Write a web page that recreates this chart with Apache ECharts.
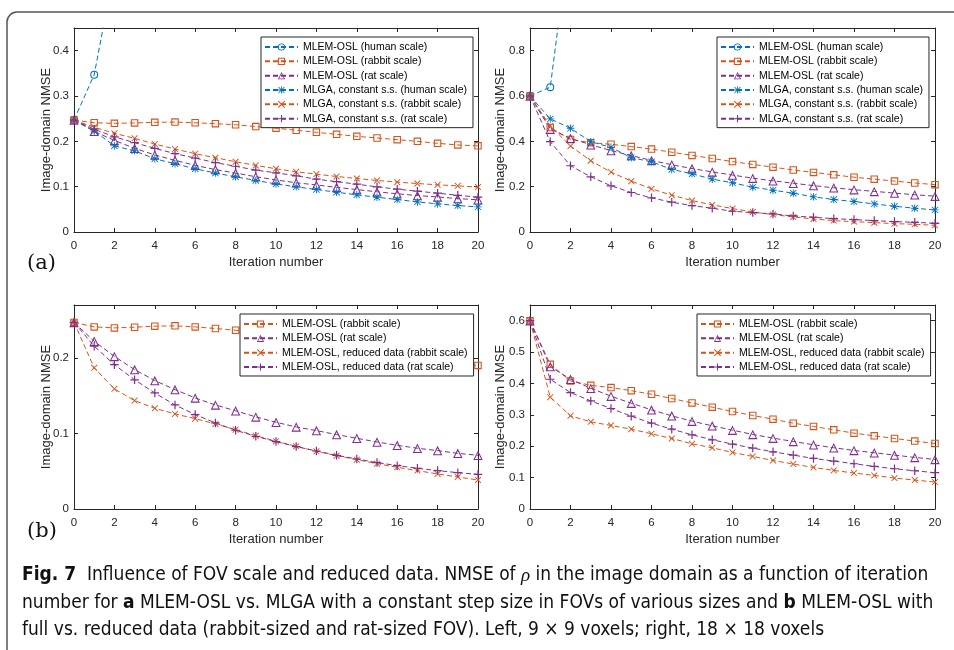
<!DOCTYPE html>
<html><head><meta charset="utf-8">
<script src="https://cdn.jsdelivr.net/npm/echarts@6/dist/echarts.min.js"></script>
<style>html,body{margin:0;padding:0;background:#fff}#c{width:954px;height:650px}</style>
</head><body><div id="c"></div>
<script>
// ---------- data ----------
const iterations = [0,1,2,3,4,5,6,7,8,9,10,11,12,13,14,15,16,17,18,19,20];

// 9 x 9 voxels (left column)
const human9_mlem  = [0.247, 0.347, 0.58];
const rabbit9_mlem = [0.247, 0.241, 0.2397, 0.2406, 0.242, 0.2424, 0.241, 0.2389, 0.2366, 0.2325, 0.229, 0.2244, 0.22, 0.2155, 0.211, 0.2074, 0.2037, 0.2, 0.1956, 0.192, 0.19];
const rat9_mlem    = [0.247, 0.222, 0.202, 0.1845, 0.17, 0.158, 0.147, 0.1377, 0.130, 0.1219, 0.1148, 0.1086, 0.1038, 0.0985, 0.0936, 0.0887, 0.0843, 0.0804, 0.0773, 0.0737, 0.0711];
const human9_mlga  = [0.247, 0.2229, 0.19, 0.179, 0.1616, 0.1505, 0.1395, 0.13, 0.1218, 0.1137, 0.106, 0.0996, 0.0937, 0.0878, 0.082, 0.0768, 0.0716, 0.0664, 0.062, 0.0583, 0.0554];
const rabbit9_mlga = [0.247, 0.231, 0.2177, 0.2066, 0.194, 0.183, 0.1727, 0.1638, 0.155, 0.1469, 0.1395, 0.1328, 0.1277, 0.1225, 0.118, 0.1137, 0.11, 0.107, 0.104, 0.1018, 0.099];
const rat9_mlga    = [0.247, 0.2266, 0.21, 0.197, 0.1845, 0.173, 0.163, 0.153, 0.145, 0.1365, 0.1306, 0.124, 0.1166, 0.111, 0.1055, 0.0996, 0.0945, 0.09, 0.0856, 0.081, 0.0768];
const rabbit9_red  = [0.247, 0.1868, 0.159, 0.1435, 0.1333, 0.1258, 0.1196, 0.1126, 0.105, 0.0971, 0.0896, 0.083, 0.0764, 0.0706, 0.0653, 0.06, 0.0552, 0.0508, 0.0464, 0.0424, 0.0384];
const rat9_red     = [0.247, 0.2155, 0.191, 0.171, 0.1536, 0.1377, 0.125, 0.1139, 0.1042, 0.0962, 0.0892, 0.0826, 0.0768, 0.0711, 0.0662, 0.0614, 0.0574, 0.0539, 0.0508, 0.0481, 0.0459];

// 18 x 18 voxels (right column)
const human18_mlem  = [0.6, 0.639, 1.33];
const rabbit18_mlem = [0.6, 0.461, 0.408, 0.394, 0.387, 0.377, 0.3657, 0.352, 0.338, 0.3244, 0.3106, 0.298, 0.2862, 0.2735, 0.263, 0.2523, 0.2417, 0.2332, 0.2247, 0.2163, 0.2088];
const rat18_mlem    = [0.6, 0.4537, 0.4134, 0.3848, 0.3594, 0.3371, 0.3159, 0.2968, 0.2799, 0.265, 0.2512, 0.2375, 0.2258, 0.2152, 0.2046, 0.1951, 0.1866, 0.1792, 0.1717, 0.1643, 0.158];
const human18_mlga  = [0.6, 0.499, 0.4576, 0.3985, 0.3734, 0.3277, 0.31, 0.276, 0.2568, 0.2332, 0.217, 0.1978, 0.1845, 0.1712, 0.155, 0.1432, 0.1343, 0.124, 0.1137, 0.1048, 0.0974];
const rabbit18_mlga = [0.6, 0.468, 0.3793, 0.3144, 0.2642, 0.2244, 0.1904, 0.1624, 0.1387, 0.1196, 0.1033, 0.0886, 0.0768, 0.0664, 0.0576, 0.0502, 0.0458, 0.0413, 0.0369, 0.034, 0.0295];
const rat18_mlga    = [0.6, 0.3985, 0.2923, 0.2435, 0.2037, 0.1742, 0.1506, 0.1314, 0.1166, 0.1048, 0.0915, 0.0856, 0.0797, 0.0708, 0.065, 0.059, 0.0546, 0.0502, 0.0458, 0.0428, 0.0384];
const rabbit18_red  = [0.6, 0.3562, 0.2968, 0.2777, 0.2661, 0.2544, 0.2396, 0.2247, 0.2078, 0.195, 0.1802, 0.1675, 0.1548, 0.1431, 0.1325, 0.123, 0.1145, 0.1071, 0.0986, 0.0922, 0.0859];
const rat18_red     = [0.6, 0.4134, 0.371, 0.3445, 0.3202, 0.2958, 0.2735, 0.2544, 0.2364, 0.2205, 0.2067, 0.194, 0.1823, 0.1717, 0.1611, 0.1527, 0.1442, 0.1357, 0.1283, 0.1219, 0.1156];

const names = {
  mlemHuman: 'MLEM-OSL (human scale)',
  mlemRabbit: 'MLEM-OSL (rabbit scale)',
  mlemRat: 'MLEM-OSL (rat scale)',
  mlgaHuman: 'MLGA, constant s.s. (human scale)',
  mlgaRabbit: 'MLGA, constant s.s. (rabbit scale)',
  mlgaRat: 'MLGA, constant s.s. (rat scale)',
  redRabbit: 'MLEM-OSL, reduced data (rabbit scale)',
  redRat: 'MLEM-OSL, reduced data (rat scale)'
};
const legendA = [names.mlemHuman, names.mlemRabbit, names.mlemRat, names.mlgaHuman, names.mlgaRabbit, names.mlgaRat];
const legendB = [names.mlemRabbit, names.mlemRat, names.redRabbit, names.redRat];
const yMax = [0.45, 0.9, 0.27, 0.65];
const yInterval = [0.1, 0.2, 0.1, 0.1];

// ---------- styling ----------
const BLUE = '#0072BD', ORANGE = '#D95319', PURPLE = '#7E2F8E', INK = '#262626';
// hollow marker outlines (ring paths, unfilled centre like MATLAB markers)
const SYM_CIRCLE = 'path://M5,0A5,5 0 1,1 5,10A5,5 0 1,1 5,0ZM5,1.3A3.7,3.7 0 1,0 5,8.7A3.7,3.7 0 1,0 5,1.3Z';
const SYM_SQUARE = 'path://M0,0H10V10H0ZM1.45,1.45V8.55H8.55V1.45Z';
const SYM_TRI = 'path://M5,0L10,10L0,10ZM5,2.45L1.75,8.85L8.25,8.85Z';
const SYM_PLUS = 'path://M4.3,0H5.7V10H4.3ZM0,4.3H10V5.7H0Z';
const SYM_X = 'path://M1,0L5,4L9,0L10,1L6,5L10,9L9,10L5,6L1,10L0,9L4,5L0,1Z';
const SYM_STAR = 'path://M4.4,0H5.6V10H4.4ZM0,4.4H10V5.6H0ZM1.2,0.4L5,4.2L8.8,0.4L9.6,1.2L5.8,5L9.6,8.8L8.8,9.6L5,5.8L1.2,9.6L0.4,8.8L4.2,5L0.4,1.2Z';

const grids = [
  {left: 74, top: 28, width: 404, height: 204},
  {left: 530, top: 28, width: 405, height: 204},
  {left: 74, top: 305, width: 404, height: 204},
  {left: 530, top: 305, width: 405, height: 204}
];
const nameGaps = [21, 23, 21, 23];

const xAxes = [], yAxes = [];
grids.forEach((g, i) => {
  xAxes.push({
    type: 'value', gridIndex: i, min: 0, max: 20, interval: 2, position: 'bottom',
    name: 'Iteration number', nameLocation: 'middle', nameGap: 24, nameMoveOverlap: false,
    nameTextStyle: {fontSize: 13, color: INK, fontFamily: 'Liberation Sans'},
    axisLine: {show: true, lineStyle: {color: INK, width: 1}},
    axisTick: {show: true, inside: true, length: 4, lineStyle: {color: INK}},
    axisLabel: {fontSize: 11.5, color: INK, margin: 8, fontFamily: 'Liberation Sans'},
    splitLine: {show: false}
  });
  xAxes.push({
    type: 'value', gridIndex: i, min: 0, max: 20, interval: 2, position: 'top',
    axisLine: {show: true, onZero: false, lineStyle: {color: INK, width: 1}},
    axisTick: {show: true, inside: true, length: 4, lineStyle: {color: INK}},
    axisLabel: {show: false}, splitLine: {show: false}
  });
  const iv = yInterval[i];
  const fmt = v => (Math.abs(v / iv - Math.round(v / iv)) > 1e-6) ? '' : String(parseFloat(v.toFixed(2)));
  yAxes.push({
    type: 'value', gridIndex: i, min: 0, max: yMax[i], interval: iv, position: 'left',
    name: 'Image-domain NMSE', nameLocation: 'middle', nameGap: nameGaps[i], nameMoveOverlap: false,
    nameTextStyle: {fontSize: 13, color: INK, fontFamily: 'Liberation Sans'},
    axisLine: {show: true, lineStyle: {color: INK, width: 1}},
    axisTick: {show: true, inside: true, length: 4, lineStyle: {color: INK}},
    axisLabel: {fontSize: 11.5, color: INK, margin: 5, formatter: fmt, fontFamily: 'Liberation Sans', showMaxLabel: false},
    splitLine: {show: false}
  });
  yAxes.push({
    type: 'value', gridIndex: i, min: 0, max: yMax[i], interval: iv, position: 'right',
    axisLine: {show: true, onZero: false, lineStyle: {color: INK, width: 1}},
    axisTick: {show: true, inside: true, length: 4, lineStyle: {color: INK}},
    axisLabel: {show: false}, splitLine: {show: false}
  });
});

function mk(name, values, color, symbol, size, g) {
  return {
    type: 'line', name, xAxisIndex: g * 2, yAxisIndex: g * 2,
    data: values.map((v, k) => [iterations[k], v]),
    symbol, symbolSize: size, showAllSymbol: true, clip: true,
    lineStyle: {color, width: 1, type: [5, 3]},
    itemStyle: {color, borderWidth: 0},
    emphasis: {disabled: true}, animation: false, z: 2
  };
}

const series = [
  // (a) 9x9
  mk(names.mlemHuman, human9_mlem, BLUE, SYM_CIRCLE, 8, 0),
  mk(names.mlemRabbit, rabbit9_mlem, ORANGE, SYM_SQUARE, 7.5, 0),
  mk(names.mlemRat, rat9_mlem, PURPLE, SYM_TRI, 9.5, 0),
  mk(names.mlgaHuman, human9_mlga, BLUE, SYM_STAR, 7.5, 0),
  mk(names.mlgaRabbit, rabbit9_mlga, ORANGE, SYM_X, 6.5, 0),
  mk(names.mlgaRat, rat9_mlga, PURPLE, SYM_PLUS, 8.5, 0),
  // (a) 18x18
  mk(names.mlemHuman, human18_mlem, BLUE, SYM_CIRCLE, 8, 1),
  mk(names.mlemRabbit, rabbit18_mlem, ORANGE, SYM_SQUARE, 7.5, 1),
  mk(names.mlemRat, rat18_mlem, PURPLE, SYM_TRI, 9.5, 1),
  mk(names.mlgaHuman, human18_mlga, BLUE, SYM_STAR, 7.5, 1),
  mk(names.mlgaRabbit, rabbit18_mlga, ORANGE, SYM_X, 6.5, 1),
  mk(names.mlgaRat, rat18_mlga, PURPLE, SYM_PLUS, 8.5, 1),
  // (b) 9x9
  mk(names.mlemRabbit, rabbit9_mlem, ORANGE, SYM_SQUARE, 7.5, 2),
  mk(names.mlemRat, rat9_mlem, PURPLE, SYM_TRI, 9.5, 2),
  mk(names.redRabbit, rabbit9_red, ORANGE, SYM_X, 6.5, 2),
  mk(names.redRat, rat9_red, PURPLE, SYM_PLUS, 8.5, 2),
  // (b) 18x18
  mk(names.mlemRabbit, rabbit18_mlem, ORANGE, SYM_SQUARE, 7.5, 3),
  mk(names.mlemRat, rat18_mlem, PURPLE, SYM_TRI, 9.5, 3),
  mk(names.redRabbit, rabbit18_red, ORANGE, SYM_X, 6.5, 3),
  mk(names.redRat, rat18_red, PURPLE, SYM_PLUS, 8.5, 3)
];

function legend(data, left, top) {
  return {
    data, left, top, orient: 'vertical', selectedMode: false,
    backgroundColor: '#fff', borderColor: INK, borderWidth: 1, borderRadius: 0,
    padding: [4, 6, 3, 3], itemWidth: 33, itemHeight: 9, itemGap: 2.33,
    textStyle: {fontSize: 10.5, lineHeight: 12, color: '#000', fontFamily: 'Liberation Sans'},
    z: 10
  };
}

const capFont = '"Liberation Sans Narrow", "DejaVu Sans Condensed", sans-serif';
const capRich = {
  b: {fontWeight: 'bold', fontSize: 19, fontFamily: capFont, fill: '#111'},
  i: {fontStyle: 'italic', fontSize: 19, fontFamily: 'Liberation Serif', fill: '#111'}
};
function capLine(text, y) {
  return {type: 'text', left: 22, top: y, silent: true,
    style: {text, fontSize: 19, fontFamily: capFont, fill: '#111', rich: capRich}};
}

const option = {
  backgroundColor: '#fff',
  animation: false,
  grid: grids.map(g => Object.assign({containLabel: false, show: false}, g)),
  xAxis: xAxes,
  yAxis: yAxes,
  legend: [legend(legendA, 261, 37), legend(legendA, 717, 37), legend(legendB, 240, 314), legend(legendB, 697, 314)],
  series,
  graphic: [
    {type: 'rect', shape: {x: 7, y: 12, width: 1000, height: 800, r: 10}, silent: true, z: -1,
     style: {fill: 'none', stroke: '#555', lineWidth: 1.5}},
    {type: 'text', left: 27, top: 253, silent: true,
     style: {text: '(a)', fontSize: 21, fontFamily: 'DejaVu Serif', fill: '#111'}},
    {type: 'text', left: 27, top: 521, silent: true,
     style: {text: '(b)', fontSize: 21, fontFamily: 'DejaVu Serif', fill: '#111'}},
    capLine('{b|Fig. 7}  Influence of FOV scale and reduced data. NMSE of {i|ρ} in the image domain as a function of iteration', 566),
    capLine('number for {b|a} MLEM-OSL vs. MLGA with a constant step size in FOVs of various sizes and {b|b} MLEM-OSL with', 593.5),
    capLine('full vs. reduced data (rabbit-sized and rat-sized FOV). Left, 9 × 9 voxels; right, 18 × 18 voxels', 621)
  ]
};

const chart = echarts.init(document.getElementById('c'), null, {renderer: 'canvas'});
chart.setOption(option);
</script>
</body></html>
